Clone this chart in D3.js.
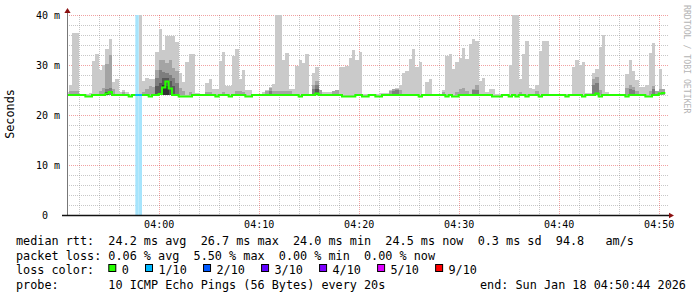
<!DOCTYPE html>
<html>
<head>
<meta charset="utf-8">
<script src="https://cdn.jsdelivr.net/npm/d3@7"></script>
<style>
  html, body { margin: 0; padding: 0; background: #fff; }
  svg { display: block; font-family: "DejaVu Sans Mono", monospace; }
  text { white-space: pre; }
</style>
</head>
<body>
<svg id="chart" width="697" height="297"></svg>
<script>
// 20 s steps, first one starts 03:50:40 (UTC used so the clock labels stay fixed)
const stepSec = 20;
const firstStep = Date.UTC(2026, 0, 18, 3, 50, 40);
const viewStart = Date.UTC(2026, 0, 18, 3, 50, 50);
const viewEnd = Date.UTC(2026, 0, 18, 4, 50, 50);

// highest of the 10 pings per step (ms)
const pingMax = [
  24.7, 26.0, 36.4, 36.4, 24.2, 24.2, 24.2, 24.5, 30.8, 32.2,
  29.0, 30.0, 33.2, 35.2, 26.7, 27.2, 24.7, 25.0, 24.6, 24.2,
  24.2, 24.2, 41.0, 26.8, 27.5, 27.2, 27.2, 32.7, 37.2, 33.0,
  35.8, 35.8, 35.8, 34.7, 28.5, 26.7, 30.7, 32.2, 32.2, 24.5,
  24.2, 24.2, 26.5, 27.2, 25.2, 25.2, 30.8, 32.7, 25.8, 25.8,
  31.9, 33.2, 27.3, 29.0, 25.1, 25.1, 24.2, 24.2, 24.2, 24.7,
  25.0, 25.7, 26.2, 41.0, 41.0, 31.0, 32.5, 25.2, 25.2, 29.9,
  31.0, 30.5, 32.2, 24.2, 28.5, 29.7, 25.0, 24.7, 24.7, 24.7,
  24.8, 25.1, 29.7, 29.7, 29.9, 31.5, 33.0, 31.0, 32.7, 24.2,
  24.2, 24.2, 24.2, 24.2, 24.5, 24.5, 24.5, 25.0, 25.0, 25.5,
  26.1, 28.5, 28.9, 31.2, 33.2, 29.7, 30.7, 24.2, 26.7, 27.2,
  24.2, 24.2, 24.2, 25.1, 31.8, 32.3, 29.3, 30.7, 31.5, 33.5,
  31.3, 34.3, 35.3, 34.9, 26.8, 27.5, 24.7, 25.3, 25.3, 24.2,
  24.2, 24.2, 24.3, 30.1, 41.0, 41.0, 27.3, 32.3, 34.8, 25.5,
  25.3, 26.0, 32.9, 34.8, 34.8, 24.2, 24.2, 24.3, 24.3, 24.2,
  24.2, 24.2, 29.7, 31.0, 30.0, 30.7, 24.5, 24.5, 28.5, 29.3,
  33.7, 36.0, 24.7, 24.3, 24.3, 24.2, 24.2, 24.2, 28.3, 31.0,
  28.8, 27.1, 25.7, 25.7, 26.0, 32.5, 34.5, 24.7, 29.2, 25.0
];

// median rtt per step (ms)
const medianRtt = [
  24.0, 24.0, 24.0, 24.0, 24.0, 24.0, 23.7, 23.7, 24.0, 24.0,
  24.0, 24.0, 24.3, 24.6, 24.0, 24.0, 24.0, 24.0, 24.0, 23.7,
  24.0, 24.0, 24.0, 24.0, 24.0, 23.7, 24.0, 24.0, 24.2, 25.5,
  26.7, 25.3, 24.0, 24.0, 23.7, 23.7, 23.7, 23.7, 24.0, 24.0,
  24.0, 24.0, 24.0, 24.0, 24.0, 23.7, 24.0, 24.0, 24.0, 23.7,
  24.0, 24.0, 24.0, 24.0, 23.7, 23.7, 24.0, 24.0, 24.0, 24.0,
  24.0, 24.0, 24.0, 24.0, 24.0, 24.0, 24.0, 24.0, 24.0, 24.0,
  23.7, 24.0, 24.0, 24.0, 24.0, 24.3, 24.0, 24.0, 24.0, 24.0,
  24.0, 24.0, 24.0, 23.7, 23.7, 23.7, 23.7, 24.0, 24.0, 23.7,
  23.7, 24.0, 24.0, 23.7, 23.7, 24.0, 24.0, 24.0, 24.0, 24.0,
  24.0, 24.0, 24.0, 24.0, 24.0, 24.0, 23.7, 24.0, 24.0, 24.0,
  24.0, 24.0, 24.0, 24.0, 23.7, 24.0, 23.7, 23.7, 24.0, 24.0,
  24.0, 24.0, 24.0, 24.0, 24.0, 24.0, 24.0, 24.0, 23.7, 23.7,
  23.7, 24.0, 24.0, 23.7, 24.0, 23.7, 24.0, 24.0, 23.7, 24.0,
  24.0, 24.0, 23.7, 24.0, 24.0, 24.0, 24.0, 24.0, 24.0, 24.0,
  23.7, 24.0, 24.0, 24.0, 24.0, 23.7, 24.0, 24.0, 24.0, 24.3,
  23.7, 24.0, 24.0, 24.0, 24.0, 24.0, 24.0, 24.0, 23.7, 24.0,
  24.0, 24.0, 24.0, 24.0, 23.7, 23.7, 24.0, 24.0, 24.3, 24.4
];

// steps with packet loss: [step, lost pings out of 10]
const lossSteps = [[21, 1], [22, 1]];

// inner smoke bands: [step, low ms, high ms]
const band2 = [
  [1, 24.0, 24.8], [2, 24.0, 24.8], [3, 24.0, 24.8], [10, 24.0, 24.8], [11, 24.0, 25.4],
  [12, 24.0, 30.2], [13, 24.0, 32.0], [14, 24.0, 25.2], [17, 24.0, 24.7], [23, 24.0, 24.6],
  [24, 24.0, 25.2], [25, 24.0, 25.8], [26, 24.0, 25.6], [27, 24.0, 29.1], [28, 24.0, 31.0],
  [29, 24.0, 31.0], [30, 24.0, 30.5], [31, 24.0, 31.0], [32, 24.0, 29.5], [33, 24.0, 28.8],
  [34, 24.0, 25.5], [35, 24.0, 24.8], [37, 24.0, 24.6], [42, 24.0, 24.6], [43, 24.0, 24.6],
  [47, 24.0, 24.7], [51, 24.0, 24.8], [52, 24.0, 24.8], [53, 24.0, 24.6], [60, 24.0, 24.9],
  [61, 24.0, 25.5], [62, 24.0, 24.9], [63, 24.0, 24.8], [64, 24.0, 24.8], [65, 24.0, 24.9],
  [66, 24.0, 24.8], [67, 24.0, 24.8], [74, 24.0, 26.0], [75, 24.0, 26.9], [76, 24.0, 25.0],
  [80, 24.0, 24.9], [81, 24.0, 25.1], [97, 24.0, 24.9], [98, 24.0, 25.2], [99, 24.0, 25.3],
  [100, 24.0, 25.0], [113, 24.0, 24.6], [117, 24.0, 24.7], [118, 24.0, 25.2], [119, 24.0, 25.4],
  [120, 24.0, 24.8], [122, 24.0, 25.3], [123, 24.0, 26.0], [136, 24.0, 24.7], [141, 24.0, 24.8],
  [158, 24.0, 27.3], [159, 24.0, 27.6], [160, 24.0, 25.0], [168, 24.0, 25.5], [169, 24.0, 26.0],
  [170, 24.0, 25.7], [171, 24.0, 24.9], [175, 24.0, 24.8], [176, 24.0, 25.8], [177, 24.0, 24.9],
  [178, 24.0, 25.2], [179, 24.0, 25.3]
];
const band3 = [
  [12, 24.0, 25.2], [13, 24.0, 25.5], [27, 24.0, 27.5], [28, 24.0, 29.0], [29, 24.0, 28.7],
  [30, 24.0, 28.5], [31, 24.0, 28.0], [32, 24.0, 27.5], [33, 24.0, 26.5], [61, 24.0, 24.9],
  [74, 24.0, 25.3], [75, 24.0, 26.0], [98, 24.0, 24.9], [99, 24.0, 25.0], [122, 24.0, 25.0],
  [123, 24.0, 25.0], [158, 24.0, 26.0], [159, 24.0, 26.5], [169, 24.0, 25.2], [170, 24.0, 25.0],
  [176, 24.0, 25.2]
];
const band4 = [
  [27, 24.0, 25.8], [28, 24.0, 26.5], [29, 24.0, 27.4], [30, 24.0, 27.4], [31, 24.0, 26.8],
  [32, 24.0, 25.8], [75, 24.0, 25.2]
];
const band5 = [[12, 24.0, 24.6], [29, 24.0, 26.0], [30, 24.0, 25.8]];

const bandColors = ['#cacaca', '#a4a4a4', '#7e7e7e', '#585858', '#323232'];

const lossLegend = ['0', '1/10', '2/10', '3/10', '4/10', '5/10', '9/10'];
const lossColors = ['#26ff00', '#00b8ff', '#0059ff', '#5e00ff', '#7e00ff', '#dd00ff', '#ff0000'];
const lossBgColors = { 1: '#a6e4fc' };

const yTicks = [0, 10, 20, 30, 40];

const legendRows = [
  'median rtt:  24.2 ms avg  26.7 ms max  24.0 ms min  24.5 ms now  0.3 ms sd  94.8   am/s',
  'packet loss: 0.06 % avg  5.50 % max  0.00 % min  0.00 % now',
  'loss color:',
  'probe:       10 ICMP Echo Pings (56 Bytes) every 20s'
];
const endText = 'end: Sun Jan 18 04:50:44 2026';
const watermark = 'RRDTOOL / TOBI OETIKER';

// ---------------------------------------------------------------
const svg = d3.select('#chart');
const plotL = 67, plotR = 667, plotT = 15, plotB = 215;

const x = d3.scaleUtc().domain([new Date(viewStart), new Date(viewEnd)]).range([plotL, plotR]);
const y = d3.scaleLinear().domain([0, 40]).range([plotB, plotT]);
const stepStart = i => new Date(firstStep + i * stepSec * 1000);

svg.append('defs').append('clipPath').attr('id', 'plot')
  .append('rect').attr('x', plotL).attr('y', plotT).attr('width', plotR - plotL).attr('height', plotB - plotT);

// grid (under the smoke)
const grid = svg.append('g').attr('shape-rendering', 'crispEdges');
const minorX = x.ticks(d3.utcMinute.every(2)).filter(t => t.getUTCMinutes() % 10 !== 0);
const majorX = x.ticks(d3.utcMinute.every(10));
const minorY = d3.range(2, 41, 2).filter(v => v % 10 !== 0);
const majorY = yTicks.filter(v => v > 0);

grid.selectAll('line.mx').data(minorX).enter().append('line')
  .attr('x1', d => Math.round(x(d)) + 0.5).attr('x2', d => Math.round(x(d)) + 0.5)
  .attr('y1', plotT).attr('y2', plotB)
  .attr('stroke', 'rgba(143,143,143,0.5)').attr('stroke-dasharray', '1,1');
grid.selectAll('line.my').data(minorY).enter().append('line')
  .attr('x1', plotL).attr('x2', plotR + 1)
  .attr('y1', d => Math.round(y(d)) + 0.5).attr('y2', d => Math.round(y(d)) + 0.5)
  .attr('stroke', 'rgba(143,143,143,0.5)').attr('stroke-dasharray', '1,1');
grid.selectAll('line.Mx').data(majorX).enter().append('line')
  .attr('x1', d => Math.round(x(d)) + 0.5).attr('x2', d => Math.round(x(d)) + 0.5)
  .attr('y1', plotT).attr('y2', plotB)
  .attr('stroke', 'rgba(222,48,48,0.45)').attr('stroke-dasharray', '1,1');
grid.selectAll('line.My').data(majorY).enter().append('line')
  .attr('x1', plotL).attr('x2', plotR + 1)
  .attr('y1', d => Math.round(y(d)) + 0.5).attr('y2', d => Math.round(y(d)) + 0.5)
  .attr('stroke', 'rgba(222,48,48,0.45)').attr('stroke-dasharray', '1,1');

const plot = svg.append('g').attr('clip-path', 'url(#plot)');

// loss background
plot.selectAll('rect.lossbg')
  .data(lossSteps)
  .enter().append('rect')
  .attr('class', 'lossbg')
  .attr('x', d => x(stepStart(d[0])))
  .attr('width', d => x(stepStart(d[0] + 1)) - x(stepStart(d[0])))
  .attr('y', plotT)
  .attr('height', plotB - plotT)
  .attr('fill', d => lossBgColors[d[1]]);

// outer smoke: median up to the highest ping
const outer = pingMax.map((v, i) => [i, Math.min(medianRtt[i], v), v]);
[outer, band2, band3, band4, band5].forEach((band, k) => {
  plot.append('g')
    .attr('shape-rendering', 'crispEdges')
    .selectAll('rect')
    .data(band)
    .enter().append('rect')
    .attr('x', d => x(stepStart(d[0])))
    .attr('width', d => x(stepStart(d[0] + 1)) - x(stepStart(d[0])))
    .attr('y', d => y(d[2]))
    .attr('height', d => Math.max(0, y(d[1]) - y(d[2])))
    .attr('fill', bandColors[k]);
});

// median line
const medPts = medianRtt.map((v, i) => [stepStart(i), v]);
medPts.push([stepStart(medianRtt.length), medianRtt[medianRtt.length - 1]]);
const line = d3.line().x(d => x(d[0])).y(d => y(d[1])).curve(d3.curveStepAfter);
plot.append('path')
  .attr('d', line(medPts))
  .attr('fill', 'none')
  .attr('stroke', lossColors[0])
  .attr('stroke-width', 2);
plot.selectAll('line.lossmed').data(lossSteps).enter().append('line')
  .attr('x1', d => x(stepStart(d[0]))).attr('x2', d => x(stepStart(d[0] + 1)))
  .attr('y1', d => y(medianRtt[d[0]])).attr('y2', d => y(medianRtt[d[0]]))
  .attr('stroke', d => lossColors[d[1]])
  .attr('stroke-width', 2);

// axes
svg.append('line').attr('x1', plotL + 0.5).attr('x2', plotL + 0.5).attr('y1', 12).attr('y2', plotB + 1)
  .attr('stroke', '#777').attr('stroke-width', 1);
svg.append('line').attr('x1', 62).attr('x2', 670).attr('y1', plotB + 0.5).attr('y2', plotB + 0.5)
  .attr('stroke', '#111').attr('stroke-width', 1.4);
svg.append('path').attr('d', `M${plotL - 2.6},13 L${plotL + 0.5},8 L${plotL + 3.6},13 Z`).attr('fill', '#8b1010');
svg.append('path').attr('d', `M669,${plotB - 2.2} L674,${plotB + 0.5} L669,${plotB + 3.2} Z`).attr('fill', '#8b1010');

// y labels
svg.selectAll('text.ylab').data(yTicks).enter().append('text')
  .attr('x', 60).attr('y', d => y(d) + 3.6)
  .attr('text-anchor', 'end')
  .attr('font-size', 10)
  .text(d => d === 0 ? '0  ' : d + ' m');

// x labels
svg.selectAll('text.xlab').data(majorX).enter().append('text')
  .attr('x', d => x(d) + 0.5).attr('y', 228)
  .attr('text-anchor', 'middle')
  .attr('font-size', 10)
  .text(d => d3.utcFormat('%H:%M')(d));

// axis title
svg.append('text')
  .attr('transform', 'translate(14,114) rotate(-90)')
  .attr('text-anchor', 'middle')
  .attr('font-size', 11.8)
  .text('Seconds');

// watermark
svg.append('text')
  .attr('transform', 'translate(684,5) rotate(90)')
  .attr('font-size', 8.2)
  .attr('fill', '#b4b4b4')
  .text(watermark);

// legend
const rowY = [245, 259.5, 274, 288.5];
svg.selectAll('text.leg').data(legendRows).enter().append('text')
  .attr('x', 16).attr('y', (d, i) => rowY[i])
  .attr('font-size', 11.8)
  .text(d => d);

svg.append('text').attr('x', 480).attr('y', rowY[3]).attr('font-size', 11.8).text(endText);

let lx = 16 + 13 * 7.1;
lossLegend.forEach((lab, i) => {
  svg.append('rect')
    .attr('x', lx + 0.5).attr('y', 264.5).attr('width', 7).attr('height', 7)
    .attr('fill', lossColors[i]).attr('stroke', '#000').attr('stroke-width', 1);
  const t = svg.append('text').attr('x', lx + 13.4).attr('y', rowY[2]).attr('font-size', 11.8).text(lab);
  lx = lx + 13.4 + t.node().getComputedTextLength() + 16.2;
});
</script>
</body>
</html>
